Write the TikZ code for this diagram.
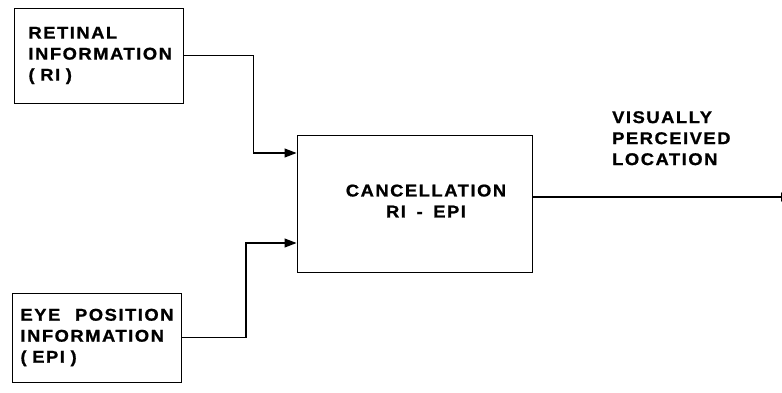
\documentclass[tikz,border=0pt]{standalone}
\usepackage{fontspec}
\newfontfamily\labelfont[LetterSpace=9,FakeStretch=1.08,FakeBold=1,WordSpace=1.6]{Liberation Sans Bold}
\usetikzlibrary{arrows.meta}

\begin{document}
\begin{tikzpicture}[x=1pt,y=-1pt,
    box/.style={draw,line width=1pt,inner sep=0pt},
    feed/.style={line width=1.1pt,-{Triangle[length=12pt,width=9pt]}},
    every node/.style={font=\labelfont\fontsize{17}{21}\selectfont}]
    \useasboundingbox (0,0) rectangle (782,392);

    % Input boxes
    \node[box,minimum width=169pt,minimum height=95pt,text width=140pt,align=left]
        (ri) at (98.5,55.5) {RETINAL\\INFORMATION\\( RI )};
    \node[box,minimum width=169pt,minimum height=89pt,text width=153pt,align=left]
        (epi) at (97,337.5) {EYE \hfill POSITION\\INFORMATION\\( EPI )};

    % Cancellation box
    \node[box,minimum width=235pt,minimum height=137pt] (cancel) at (414.5,203.5) {};
    \node[align=center] (canceltext) at (426,201) {CANCELLATION\\RI - EPI};

    % Inputs into the cancellation
    \draw[feed] (ri.east) -- ++(70,0) |- ([yshift=50.5pt]cancel.west);
    \draw[feed] (epi.east) -- ++(64,0) |- ([yshift=-39.5pt]cancel.west);

    % Output
    \coordinate (out) at (793,197);
    \draw[feed] (cancel.east |- out) -- (out);
    \node[anchor=north west,align=left,inner sep=0pt] (outtext) at (612,111)
        {VISUALLY\\PERCEIVED\\LOCATION};
\end{tikzpicture}
\end{document}
